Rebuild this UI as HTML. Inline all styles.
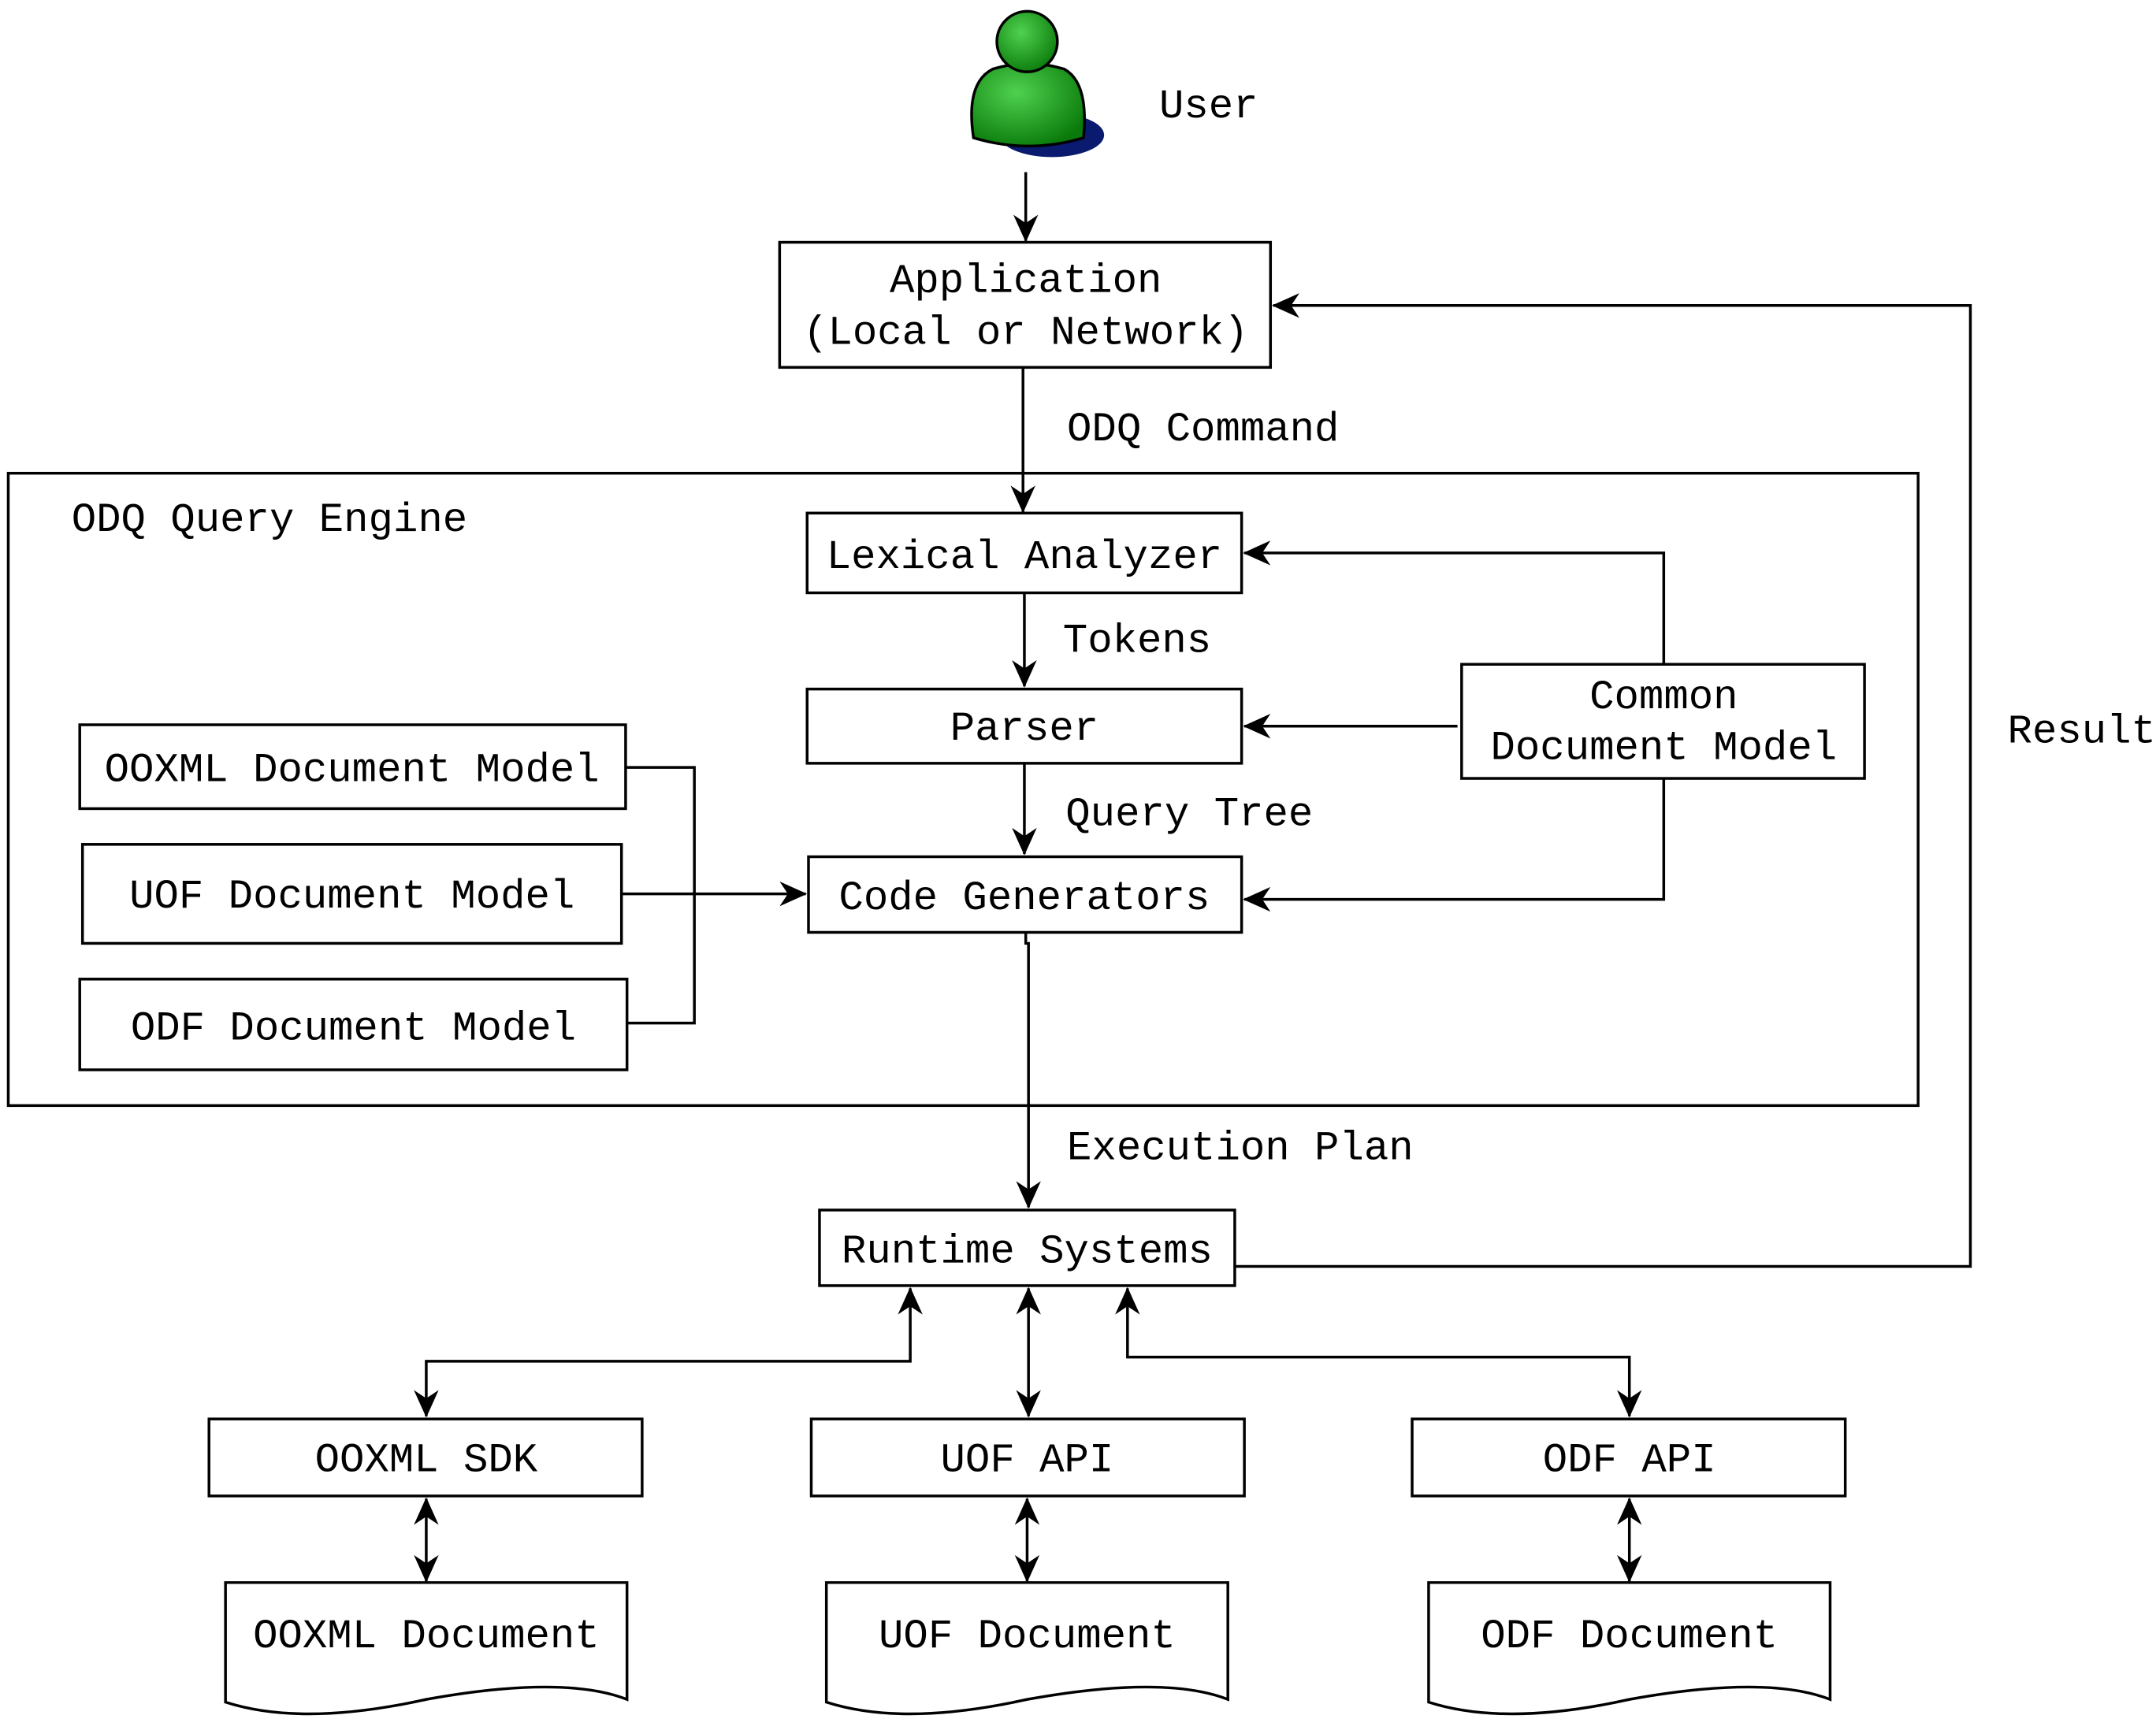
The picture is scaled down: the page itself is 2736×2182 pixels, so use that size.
<!DOCTYPE html>
<html><head><meta charset="utf-8"><style>html,body{margin:0;padding:0;background:#fff}svg{display:block}</style></head>
<body>
<svg width="2736" height="2182" viewBox="0 0 1568 1250" xmlns="http://www.w3.org/2000/svg">
<defs>
<marker id="a" viewBox="0 0 20 20" refX="19" refY="10" markerWidth="20" markerHeight="20" markerUnits="userSpaceOnUse" orient="auto-start-reverse">
<path d="M0,1 L20,10 L0,19 L6,10 Z" fill="#000"/>
</marker>
<radialGradient id="g" cx="0.4" cy="0.35" r="0.7"><stop offset="0" stop-color="#4fd14f"/><stop offset="1" stop-color="#0a7a0a"/></radialGradient>
</defs>
<style>
text{font-family:"Liberation Mono",monospace;font-size:30px;fill:#000}
rect{fill:#fff;stroke:#000;stroke-width:2}
.l{fill:none;stroke:#000;stroke-width:2}
</style>
<rect x="6" y="344" width="1389" height="460" style="fill:none"/>
<!-- user -->
<ellipse cx="765" cy="98" rx="38" ry="16" fill="#0a1a6e"/>
<path d="M708,100 Q702,60 722,50 Q748,42 774,50 Q792,60 788,100 Q748,112 708,100 Z" fill="url(#g)" stroke="#000" stroke-width="2"/>
<circle cx="747" cy="30" r="22" fill="url(#g)" stroke="#000" stroke-width="2"/>
<text x="843" y="85">User</text>
<path class="l" d="M746,125 V175" marker-end="url(#a)"/>
<rect x="567" y="176" width="357" height="91"/>
<text x="746" y="212" text-anchor="middle">Application</text>
<text x="746" y="250" text-anchor="middle">(Local or Network)</text>
<path class="l" d="M744,267 V372" marker-end="url(#a)"/>
<text x="776" y="320">ODQ Command</text>
<text x="52" y="386">ODQ Query Engine</text>
<rect x="587" y="373" width="316" height="58"/>
<text x="745" y="413" text-anchor="middle">Lexical Analyzer</text>
<path class="l" d="M745,431 V499" marker-end="url(#a)"/>
<text x="773" y="474">Tokens</text>
<rect x="587" y="501" width="316" height="54"/>
<text x="745" y="538" text-anchor="middle">Parser</text>
<path class="l" d="M745,555 V621" marker-end="url(#a)"/>
<text x="775" y="600">Query Tree</text>
<rect x="588" y="623" width="315" height="55"/>
<text x="745" y="661" text-anchor="middle">Code Generators</text>
<rect x="1063" y="483" width="293" height="83"/>
<text x="1210" y="515" text-anchor="middle">Common</text>
<text x="1210" y="552" text-anchor="middle">Document Model</text>
<path class="l" d="M1210,483 V402 H905" marker-end="url(#a)"/>
<path class="l" d="M1060,528 H905" marker-end="url(#a)"/>
<path class="l" d="M1210,566 V654 H905" marker-end="url(#a)"/>
<rect x="58" y="527" width="397" height="61"/>
<text x="256" y="568" text-anchor="middle">OOXML Document Model</text>
<rect x="60" y="614" width="392" height="72"/>
<text x="256" y="660" text-anchor="middle">UOF Document Model</text>
<rect x="58" y="712" width="398" height="66"/>
<text x="257" y="756" text-anchor="middle">ODF Document Model</text>
<path class="l" d="M455,558 H505 V744 H456"/>
<path class="l" d="M452,650 H586" marker-end="url(#a)"/>
<path class="l" d="M746,678 V686 H748 V878" marker-end="url(#a)"/>
<text x="776" y="843">Execution Plan</text>
<rect x="596" y="880" width="302" height="55"/>
<text x="747" y="918" text-anchor="middle">Runtime Systems</text>
<path class="l" d="M898,921 H1433 V222 H926" marker-end="url(#a)"/>
<text x="1460" y="540">Result</text>
<path class="l" d="M662,937 V990 H310 V1030" marker-start="url(#a)" marker-end="url(#a)"/>
<path class="l" d="M748,937 V1030" marker-start="url(#a)" marker-end="url(#a)"/>
<path class="l" d="M820,937 V987 H1185 V1030" marker-start="url(#a)" marker-end="url(#a)"/>
<rect x="152" y="1032" width="315" height="56"/>
<text x="310" y="1070" text-anchor="middle">OOXML SDK</text>
<rect x="590" y="1032" width="315" height="56"/>
<text x="747" y="1070" text-anchor="middle">UOF API</text>
<rect x="1027" y="1032" width="315" height="56"/>
<text x="1185" y="1070" text-anchor="middle">ODF API</text>
<path class="l" d="M310,1090 V1150" marker-start="url(#a)" marker-end="url(#a)"/>
<path class="l" d="M747,1090 V1150" marker-start="url(#a)" marker-end="url(#a)"/>
<path class="l" d="M1185,1090 V1150" marker-start="url(#a)" marker-end="url(#a)"/>
<path class="l" d="M164,1151 H456 V1236 Q410,1218 310,1236 Q220,1256 164,1238 Z"/>
<text x="310" y="1198" text-anchor="middle">OOXML Document</text>
<path class="l" d="M601,1151 H893 V1236 Q847,1218 747,1236 Q657,1256 601,1238 Z"/>
<text x="747" y="1198" text-anchor="middle">UOF Document</text>
<path class="l" d="M1039,1151 H1331 V1236 Q1285,1218 1185,1236 Q1095,1256 1039,1238 Z"/>
<text x="1185" y="1198" text-anchor="middle">ODF Document</text>
</svg>
</body></html>
